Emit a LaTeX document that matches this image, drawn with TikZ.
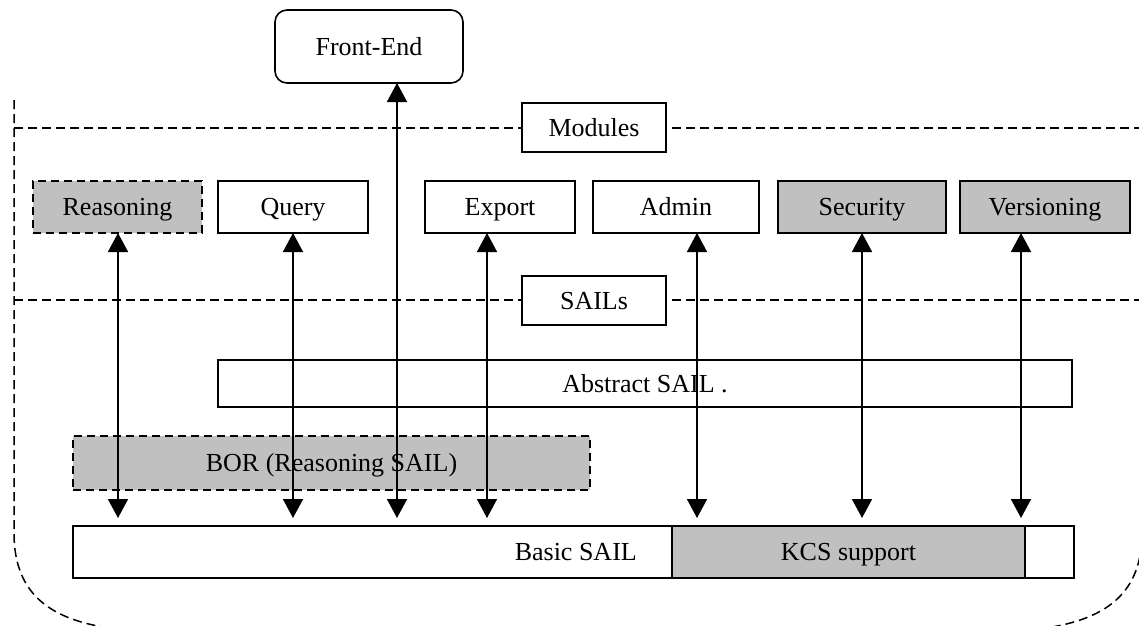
\documentclass[tikz,border=0pt]{standalone}
\usepackage{fontspec}
\setmainfont{Liberation Serif}
\usetikzlibrary{arrows.meta}
\definecolor{boxgray}{RGB}{192,192,192}
\tikzset{
  label text/.style={font=\fontsize{26}{31}\selectfont, text height=17pt, text depth=0pt},
  base/.style={draw=black, line width=1.6pt, inner sep=0pt, outer sep=0pt,
    label text, minimum height=52pt},
  plain/.style={base, fill=white},
  shaded/.style={base, fill=boxgray},
  optional/.style={base, fill=boxgray, dashed, dash pattern=on 8pt off 5pt},
  tag/.style={base, fill=white, minimum width=144pt, minimum height=49pt},
  layer/.style={line width=1.5pt, dash pattern=on 9pt off 5pt},
  link/.style={line width=1.6pt, {Triangle[length=19pt,width=20pt]}-{Triangle[length=19pt,width=20pt]}}
}
\begin{document}
\begin{tikzpicture}[x=1pt, y=-1pt]
\useasboundingbox (0,0) rectangle (1139,625);
\begin{scope}
\clip (0,0) rectangle (1139,625);
% outer border of the repository
\draw[layer] (14,100) -- (14,533) .. controls (14,598) and (55,623) .. (125,630)
  -- (1030,630) .. controls (1100,623) and (1142,598) .. (1142,533) -- (1142,100);
% layer separators
\draw[layer] (14,128) -- (1139,128);
\draw[layer] (14,300) -- (1139,300);
\end{scope}

% front end
\node[plain, rounded corners=12pt, minimum width=188pt, minimum height=73pt] (front) at (369,46.5) {Front-End};

% layer titles
\node[tag] (modules) at (594,127.5) {Modules};
\node[tag] (sails) at (594,300.5) {SAILs};

% modules
\node[optional, minimum width=169pt] (reasoning) at (117.5,207) {Reasoning};
\node[plain, minimum width=150pt] (query) at (293,207) {Query};
\node[plain, minimum width=150pt] (export) at (500,207) {Export};
\node[plain, minimum width=166pt] (admin) at (676,207) {Admin};
\node[shaded, minimum width=168pt] (security) at (862,207) {Security};
\node[shaded, minimum width=170pt] (versioning) at (1045,207) {Versioning};

% SAIL stack
\node[plain, minimum width=854pt, minimum height=47pt] (abstract) at (645,383.5) {Abstract SAIL .};
\node[optional, minimum width=517pt, minimum height=54pt] (bor) at (331.5,463) {BOR (Reasoning SAIL)};
\node[plain, minimum width=599pt] (basic) at (372.5,552) {};
\node[label text, anchor=east, inner sep=0pt] (basiclabel) at (637,552) {Basic SAIL};
\node[shaded, minimum width=353pt] (kcs) at (848.5,552) {KCS support};
\node[plain, minimum width=49pt] (spare) at (1049.5,552) {};

% arrow columns
\coordinate (cR) at (118,518);
\coordinate (cQ) at (293,518);
\coordinate (cF) at (397,518);
\coordinate (cE) at (487,518);
\coordinate (cA) at (697,518);
\coordinate (cS) at (862,518);
\coordinate (cV) at (1021,518);

\draw[link] (reasoning.south -| cR) -- (cR);
\draw[link] (query.south -| cQ) -- (cQ);
\draw[link] (export.south -| cE) -- (cE);
\draw[link] (admin.south -| cA) -- (cA);
\draw[link] (security.south -| cS) -- (cS);
\draw[link] (versioning.south -| cV) -- (cV);
\draw[link] (front.south -| cF) -- (cF);
\end{tikzpicture}
\end{document}
